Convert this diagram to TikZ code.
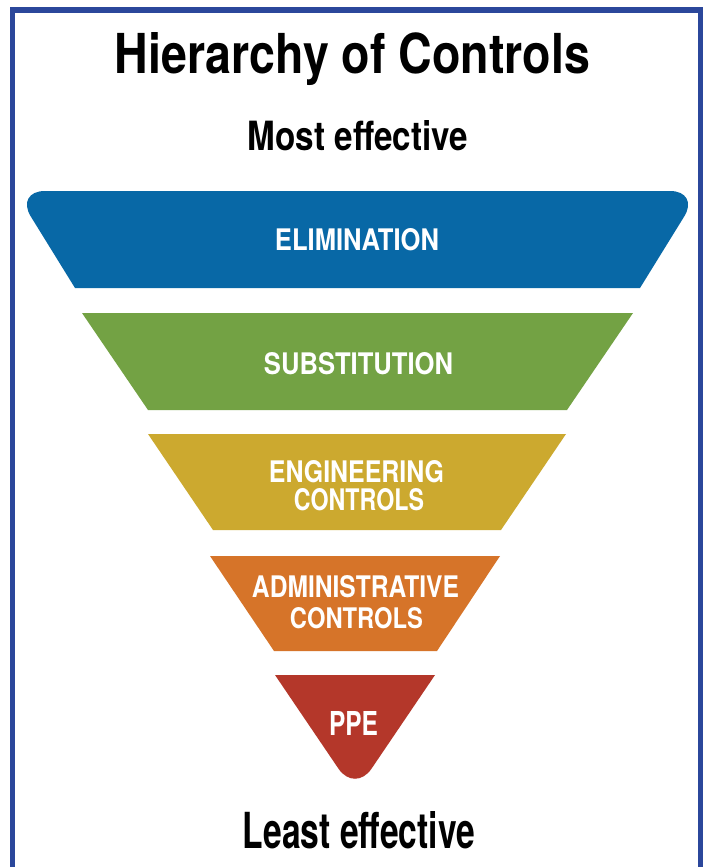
\documentclass[tikz,border=0pt]{standalone}
\usepackage{fontspec}
\setmainfont{TeX Gyre Heros}
\usepackage{graphicx}
\definecolor{framecol}{HTML}{2B479B}
\definecolor{elimcol}{HTML}{0868A6}
\definecolor{substcol}{HTML}{73A244}
\definecolor{engcol}{HTML}{CCA92F}
\definecolor{admcol}{HTML}{D67429}
\definecolor{ppecol}{HTML}{B4372A}
\newcommand\fitt[3]{\resizebox{#1pt}{#2pt}{\bfseries #3}}
\begin{document}
\begin{tikzpicture}[x=1pt,y=-1pt,
  txt/.style={anchor=base,inner sep=0pt,outer sep=0pt,text=black},
  lbl/.style={txt,text=white}]
\useasboundingbox (0,0) rectangle (706,867);
\fill[white] (0,0) rectangle (706,867);
% frame (open at bottom)
\draw[framecol,line width=5.5pt] (12.5,867) -- (12.5,10) -- (700.5,10) -- (700.5,867);
% layers
\fill[elimcol] (75,288) -- (30.8,216.5) .. controls (22.1,202.5) and (28.5,191) .. (45,191)
  -- (670,191) .. controls (686.5,191) and (692.9,202.5) .. (684.2,216.5) -- (640,288) -- cycle;
\fill[substcol] (82,313) -- (633,313) -- (567,410) -- (148,410) -- cycle;
\fill[engcol] (148,434) -- (566,434) -- (501,530) -- (213,530) -- cycle;
\fill[admcol] (210,556) -- (500,556) -- (437,651) -- (274,651) -- cycle;
\fill[ppecol] (275,675) -- (435,675) -- (371.5,768.7) .. controls (362.4,782.1) and (347.6,782.1) .. (338.5,768.7) -- cycle;
% texts
\node[txt] (title) at (352.5,74) {\fitt{475}{41}{Hierarchy of Controls}};
\node[txt] (most) at (358,150) {\fitt{220}{30}{Most effective}};
\node[txt] (least) at (359,848) {\fitt{232}{37}{Least effective}};
\node[lbl] (elim) at (357,250) {\fitt{164}{22}{ELIMINATION}};
\node[lbl] (subst) at (358.5,374) {\fitt{189}{22}{SUBSTITUTION}};
\node[lbl] (eng1) at (356.5,482) {\fitt{175}{22}{ENGINEERING}};
\node[lbl] (eng2) at (359,510) {\fitt{130}{22}{CONTROLS}};
\node[lbl] (adm1) at (355.5,597) {\fitt{207}{22}{ADMINISTRATIVE}};
\node[lbl] (adm2) at (356.5,628) {\fitt{133}{21}{CONTROLS}};
\node[lbl] (ppe) at (353.5,735) {\fitt{49}{24}{PPE}};
\end{tikzpicture}
\end{document}
